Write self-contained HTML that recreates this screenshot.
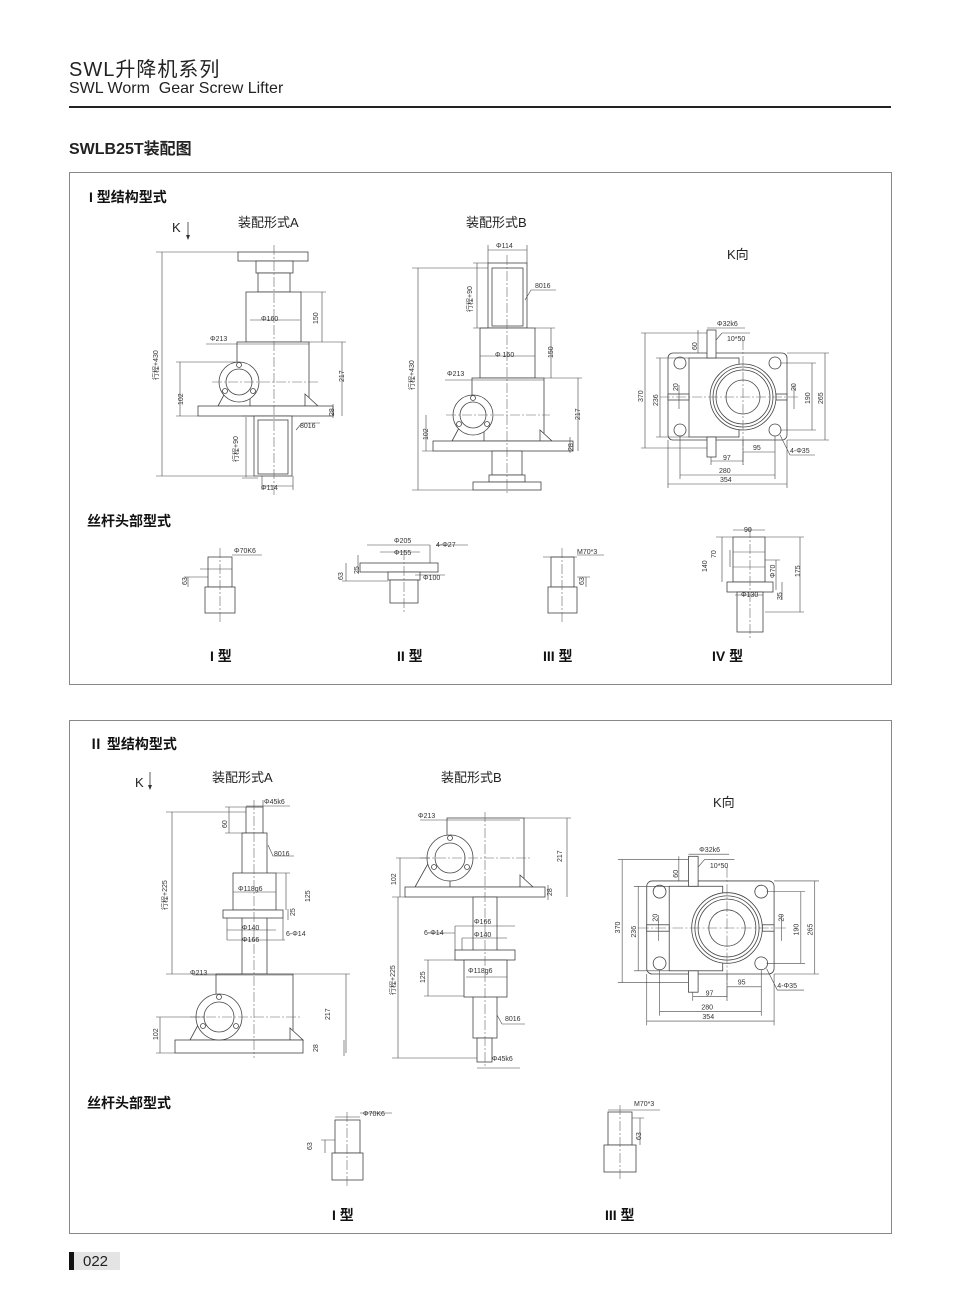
<!DOCTYPE html>
<html><head><meta charset="utf-8"><style>
html,body{margin:0;padding:0;background:#fff}
body{width:960px;height:1303px;position:relative;overflow:hidden;font-family:"Liberation Sans","Noto Sans CJK SC",sans-serif;color:#222}
.t{position:absolute;white-space:nowrap}
</style></head><body>
<div class="t" style="left:69px;top:53px;font-size:20px;letter-spacing:1px">SWL升降机系列</div>
<div class="t" style="left:69px;top:80px;font-size:16px">SWL Worm&nbsp; Gear Screw Lifter</div>
<div style="position:absolute;left:69px;top:106px;width:822px;height:2px;background:#222"></div>
<div class="t" style="left:69px;top:135px;font-size:16px;font-weight:bold">SWLB25T装配图</div>
<div style="position:absolute;left:69px;top:172px;width:821px;height:511px;border:1px solid #888"></div>
<div style="position:absolute;left:69px;top:720px;width:821px;height:512px;border:1px solid #888"></div>
<div style="position:absolute;left:69px;top:1252px;width:5px;height:18px;background:#111"></div>
<div style="position:absolute;left:74px;top:1252px;width:46px;height:18px;background:#e4e4e4"></div>
<div class="t" style="left:83px;top:1253px;font-size:15px">022</div>

<svg width="960" height="1303" style="position:absolute;left:0;top:0" xmlns="http://www.w3.org/2000/svg" font-family="Liberation Sans, Noto Sans CJK SC, sans-serif">
<g font-size="14" font-weight="bold" fill="#111">
<text x="89" y="202">I 型结构型式</text>
<text x="87" y="526">丝杆头部型式</text>
<text x="89" y="749">Ⅱ 型结构型式</text>
<text x="87" y="1108">丝杆头部型式</text>
<text x="210" y="661">I 型</text><text x="397" y="661">II 型</text><text x="543" y="661">III 型</text><text x="712" y="661">IV 型</text>
<text x="332" y="1220">I 型</text><text x="605" y="1220">III 型</text>
</g>
<g font-size="13" fill="#222">
<text x="172" y="232">K</text><text x="238" y="227">装配形式A</text><text x="466" y="227">装配形式B</text><text x="727" y="259">K向</text>
<text x="135" y="787">K</text><text x="212" y="782">装配形式A</text><text x="441" y="782">装配形式B</text><text x="713" y="807">K向</text>
</g>
<g stroke="#333" stroke-width="0.8"><line x1="188" y1="222" x2="188" y2="238"/><line x1="150" y1="772" x2="150" y2="788"/></g>
<path d="M186 235 L188 240 L190 235Z M148 785 L150 790 L152 785Z" fill="#333"/>

<g fill="#fff" stroke="#444" stroke-width="0.8">
<!-- S1 A -->
<rect x="238" y="252" width="70" height="9"/><rect x="256" y="261" width="37" height="12"/>
<rect x="258" y="273" width="32" height="19"/><rect x="246" y="292" width="55" height="50"/>
<rect x="237" y="342" width="72" height="64"/>
<path d="M218 406 L232 380 L250 380 L250 406Z M305 394 L318 406 L305 406Z"/>
<rect x="198" y="406" width="135" height="10"/>
<circle cx="239" cy="382" r="20"/><circle cx="239" cy="382" r="13"/>
<circle cx="239" cy="365" r="2.5"/><circle cx="225" cy="391" r="2.5"/><circle cx="253" cy="391" r="2.5"/>
<rect x="254" y="416" width="38" height="60"/><rect x="258" y="420" width="30" height="54"/>
<!-- S1 B -->
<rect x="488" y="263" width="39" height="65"/><rect x="492" y="268" width="31" height="58"/>
<rect x="480" y="328" width="55" height="50"/><rect x="472" y="378" width="72" height="63"/>
<path d="M452 441 L466 415 L484 415 L484 441Z M540 430 L552 441 L540 441Z"/>
<rect x="433" y="441" width="140" height="10"/>
<circle cx="473" cy="415" r="20"/><circle cx="473" cy="415" r="13"/>
<circle cx="473" cy="398" r="2.5"/><circle cx="459" cy="424" r="2.5"/><circle cx="487" cy="424" r="2.5"/>
<rect x="492" y="451" width="30" height="24"/><rect x="489" y="475" width="36" height="7"/><rect x="473" y="482" width="68" height="8"/>
<!-- S2 A -->
<rect x="246" y="807" width="17" height="26"/><rect x="242" y="833" width="25" height="141"/>
<rect x="233" y="873" width="43" height="37"/><rect x="223" y="910" width="60" height="8"/>
<rect x="216" y="974" width="77" height="66"/>
<path d="M190 1040 L205 1012 L225 1012 L225 1040Z M290 1028 L303 1040 L290 1040Z"/>
<rect x="175" y="1040" width="128" height="13"/>
<circle cx="219" cy="1017" r="23"/><circle cx="219" cy="1017" r="15"/>
<circle cx="219" cy="997" r="2.5"/><circle cx="203" cy="1026" r="2.5"/><circle cx="236" cy="1026" r="2.5"/>
<!-- S2 B -->
<rect x="447" y="818" width="77" height="69"/>
<path d="M415 887 L430 860 L450 860 L450 887Z M520 875 L533 887 L520 887Z"/>
<rect x="405" y="887" width="140" height="10"/>
<circle cx="450" cy="858" r="23"/><circle cx="450" cy="858" r="15"/>
<circle cx="450" cy="838" r="2.5"/><circle cx="434" cy="867" r="2.5"/><circle cx="467" cy="867" r="2.5"/>
<rect x="473" y="897" width="24" height="141"/>
<rect x="455" y="950" width="60" height="10"/><rect x="464" y="960" width="43" height="37"/>
<rect x="477" y="1038" width="15" height="24"/>
<!-- heads S1 -->
<rect x="208" y="557" width="24" height="30"/><rect x="205" y="587" width="30" height="26"/>
<rect x="360" y="563" width="78" height="9"/><rect x="388" y="572" width="32" height="8"/><rect x="390" y="580" width="28" height="23"/>
<rect x="551" y="557" width="23" height="30"/><rect x="548" y="587" width="29" height="26"/>
<rect x="733" y="537" width="32" height="45"/><rect x="727" y="582" width="46" height="10"/><rect x="737" y="592" width="26" height="40"/>
<!-- heads S2 -->
<rect x="335" y="1120" width="25" height="33"/><rect x="332" y="1153" width="31" height="27"/>
<rect x="608" y="1112" width="24" height="33"/><rect x="604" y="1145" width="32" height="27"/>
</g>
<g stroke="#555" stroke-width="0.6">
<line x1="733" y1="552" x2="765" y2="552"/><line x1="733" y1="567" x2="765" y2="567"/>
</g>
<!-- center lines -->
<g stroke="#666" stroke-width="0.6" stroke-dasharray="10,2,2,2" fill="none">
<line x1="274" y1="245" x2="274" y2="495"/><line x1="507" y1="255" x2="507" y2="495"/>
<line x1="212" y1="382" x2="320" y2="382"/><line x1="446" y1="415" x2="550" y2="415"/>
<line x1="254" y1="800" x2="254" y2="1058"/><line x1="485" y1="812" x2="485" y2="1068"/>
<line x1="190" y1="1017" x2="300" y2="1017"/><line x1="420" y1="858" x2="530" y2="858"/>
<line x1="220" y1="548" x2="220" y2="622"/><line x1="404" y1="550" x2="404" y2="612"/>
<line x1="562" y1="548" x2="562" y2="622"/><line x1="750" y1="528" x2="750" y2="640"/>
<line x1="347" y1="1112" x2="347" y2="1188"/><line x1="620" y1="1105" x2="620" y2="1180"/>
</g>
<!-- dim lines -->
<g stroke="#444" stroke-width="0.6" fill="none">
<path d="M162 252 V476 M156 252 H238 M156 476 H254 M180 362 V416 M176 362 H237 M176 416 H198 M246 417 V477 M242 416 H254 M242 478 H258 M322 292 V342 M300 292 H326 M342 342 V416 M309 342 H346 M333 404 V418 M262 486 H293 M262 476 V490 M293 476 V490 M250 320 H300 M206 344 H309 M296 430 L302 423 H320"/>
<path d="M418 268 V490 M412 268 H488 M412 490 H473 M477 263 V328 M473 263 H488 M473 328 H488 M488 250 H527 M488 245 V263 M527 245 V263 M551 328 V378 M535 328 H555 M578 378 V451 M544 378 H582 M570 437 V453 M426 415 V451 M422 451 H433 M480 356 H535 M445 380 H544 M525 300 L531 290 H556"/>
<path d="M172 812 V974 M166 812 H246 M166 974 H242 M229 807 V833 M225 807 H246 M225 833 H246 M263 800 V807 M246 806 H290 M268 845 L273 856 H294 M233 892 H276 M286 873 V910 M276 873 H290 M227 918 V940 M227 930 H276 M227 940 H285 M283 918 V940 M288 909 V920 M193 975 H293 M346 974 V1053 M293 974 H350 M344 1040 V1056 M160 1017 V1053 M156 1017 H205 M156 1053 H175"/>
<path d="M420 820 H520 M567 818 V897 M524 818 H571 M548 885 V900 M398 897 V1058 M392 897 H405 M392 1058 H477 M400 858 V897 M396 858 H430 M455 926 H515 M462 938 H507 M455 926 V950 M462 938 V950 M428 933 H455 M428 996 V960 M424 960 H464 M424 996 H464 M466 977 H507 M497 1015 L502 1024 H525 M477 1068 H520"/>
<path d="M200 569 H232 M188 577 V587 M184 577 H208 M232 555 H262 M346 563 V581 M342 581 H388 M358 555 V572 M367 545 H430 M380 552 H420 M415 575 H445 M430 545 V563 M436 545 H468 M543 557 H577 M586 577 V587 M577 577 H590 M577 555 H604 M733 530 H765 M722 537 V582 M716 537 H733 M730 550 V567 M776 560 V590 M765 560 H780 M800 537 V612 M765 537 H804 M765 612 H804 M735 595 H763 M782 582 V600"/>
<path d="M325 1140 V1153 M321 1140 H335 M335 1117 H360 M360 1113 H392 M640 1118 V1145 M632 1118 H644 M608 1110 H660"/>
</g>
<g font-size="7" fill="#333">
<text x="261" y="321">Φ160</text><text x="210" y="341">Φ213</text><text x="300" y="428">8016</text><text x="261" y="490">Φ114</text>
<text transform="translate(318,324) rotate(-90)">150</text><text transform="translate(344,382) rotate(-90)">217</text>
<text transform="translate(183,405) rotate(-90)">102</text><text transform="translate(334,416) rotate(-90)">28</text>
<text transform="translate(158,380) rotate(-90)">行程+430</text><text transform="translate(238,462) rotate(-90)">行程+90</text>
<text x="496" y="248">Φ114</text><text x="535" y="288">8016</text><text x="495" y="357">Φ 160</text><text x="447" y="376">Φ213</text>
<text transform="translate(472,312) rotate(-90)">行程+90</text><text transform="translate(414,390) rotate(-90)">行程+430</text>
<text transform="translate(553,358) rotate(-90)">150</text><text transform="translate(580,420) rotate(-90)">217</text>
<text transform="translate(428,440) rotate(-90)">102</text><text transform="translate(573,451) rotate(-90)">28</text>
<text x="264" y="804">Φ45k6</text><text x="274" y="856">8016</text><text x="238" y="891">Φ118g6</text><text x="242" y="930">Φ140</text><text x="242" y="942">Φ166</text><text x="286" y="936">6-Φ14</text><text x="190" y="975">Φ213</text>
<text transform="translate(227,828) rotate(-90)">60</text><text transform="translate(167,910) rotate(-90)">行程+225</text><text transform="translate(310,902) rotate(-90)">125</text><text transform="translate(295,916) rotate(-90)">25</text>
<text transform="translate(330,1020) rotate(-90)">217</text><text transform="translate(158,1040) rotate(-90)">102</text><text transform="translate(318,1052) rotate(-90)">28</text>
<text x="418" y="818">Φ213</text><text transform="translate(562,862) rotate(-90)">217</text><text transform="translate(396,885) rotate(-90)">102</text><text transform="translate(552,896) rotate(-90)">28</text>
<text x="474" y="924">Φ166</text><text x="474" y="937">Φ140</text><text x="424" y="935">6-Φ14</text><text x="468" y="973">Φ118g6</text><text x="505" y="1021">8016</text><text x="492" y="1061">Φ45k6</text>
<text transform="translate(395,995) rotate(-90)">行程+225</text><text transform="translate(425,983) rotate(-90)">125</text>
<text x="234" y="553">Φ70K6</text><text transform="translate(187,585) rotate(-90)">63</text>
<text x="394" y="543">Φ205</text><text x="436" y="547">4-Φ27</text><text x="394" y="555">Φ155</text><text x="423" y="580">Φ100</text>
<text transform="translate(343,580) rotate(-90)">63</text><text transform="translate(359,574) rotate(-90)">25</text>
<text x="577" y="554">M70*3</text><text transform="translate(584,585) rotate(-90)">63</text>
<text x="744" y="532">90</text><text transform="translate(707,572) rotate(-90)">140</text><text transform="translate(716,558) rotate(-90)">70</text><text transform="translate(775,578) rotate(-90)">Φ70</text><text transform="translate(800,577) rotate(-90)">175</text><text x="741" y="597">Φ130</text><text transform="translate(782,600) rotate(-90)">35</text>
<text x="363" y="1116">Φ70K6</text><text transform="translate(312,1150) rotate(-90)">63</text>
<text x="634" y="1106">M70*3</text><text transform="translate(641,1140) rotate(-90)">63</text>
</g>

<!-- K views -->
<g id="k1">
<g fill="#fff" stroke="#444" stroke-width="0.8">
<rect x="668" y="353" width="119" height="87" rx="5"/>
<rect x="689" y="358" width="50" height="79"/>
<rect x="668" y="394" width="21" height="6"/><rect x="776" y="394" width="11" height="6"/>
<circle cx="743" cy="397" r="33"/><circle cx="743" cy="397" r="30"/><circle cx="743" cy="397" r="27"/><circle cx="743" cy="397" r="17"/>
<circle cx="680" cy="363" r="6"/><circle cx="775" cy="363" r="6"/><circle cx="680" cy="430" r="6"/><circle cx="775" cy="430" r="6"/>
<rect x="707" y="330" width="9" height="28"/><rect x="707" y="437" width="9" height="20"/>
</g>
<g stroke="#666" stroke-width="0.6" stroke-dasharray="10,2,2,2"><line x1="660" y1="397" x2="800" y2="397"/><line x1="743" y1="340" x2="743" y2="465"/></g>
<g stroke="#444" stroke-width="0.6" fill="none">
<path d="M645 333 V448 M641 333 H707 M641 448 H707 M660 358 V437 M656 358 H689 M656 437 H689 M812 363 V430 M780 363 H816 M780 430 H816 M825 353 V440 M787 353 H829 M787 440 H829 M668 484 H787 M668 440 V488 M787 440 V488 M680 475 H775 M680 436 V479 M775 436 V479 M711 461 H743 M711 457 V465 M743 452 H775 M743 440 V465 M707 328 H745 M716 340 L722 333 H750 M698 330 V353 M780 435 L790 455 H815 M679 385 V409 M794 385 V409"/>
</g>
<g font-size="7" fill="#333">
<text x="717" y="326">Φ32k6</text><text x="727" y="341">10*50</text><text transform="translate(697,350) rotate(-90)">60</text>
<text transform="translate(643,402) rotate(-90)">370</text><text transform="translate(658,406) rotate(-90)">236</text>
<text transform="translate(678,391) rotate(-90)">20</text><text transform="translate(796,391) rotate(-90)">20</text>
<text transform="translate(810,404) rotate(-90)">190</text><text transform="translate(823,404) rotate(-90)">265</text>
<text x="753" y="450">95</text><text x="723" y="460">97</text><text x="719" y="473">280</text><text x="720" y="482">354</text><text x="790" y="453">4-Φ35</text>
</g>
</g>
<g transform="translate(727,928) scale(1.07) translate(-743,-397)">
<g fill="#fff" stroke="#444" stroke-width="0.75">
<rect x="668" y="353" width="119" height="87" rx="5"/>
<rect x="689" y="358" width="50" height="79"/>
<rect x="668" y="394" width="21" height="6"/><rect x="776" y="394" width="11" height="6"/>
<circle cx="743" cy="397" r="33"/><circle cx="743" cy="397" r="30"/><circle cx="743" cy="397" r="27"/><circle cx="743" cy="397" r="17"/>
<circle cx="680" cy="363" r="6"/><circle cx="775" cy="363" r="6"/><circle cx="680" cy="430" r="6"/><circle cx="775" cy="430" r="6"/>
<rect x="707" y="330" width="9" height="28"/><rect x="707" y="437" width="9" height="20"/>
</g>
<g stroke="#666" stroke-width="0.55" stroke-dasharray="10,2,2,2"><line x1="660" y1="397" x2="800" y2="397"/><line x1="743" y1="340" x2="743" y2="465"/></g>
<g stroke="#444" stroke-width="0.55" fill="none">
<path d="M645 333 V448 M641 333 H707 M641 448 H707 M660 358 V437 M656 358 H689 M656 437 H689 M812 363 V430 M780 363 H816 M780 430 H816 M825 353 V440 M787 353 H829 M787 440 H829 M668 484 H787 M668 440 V488 M787 440 V488 M680 475 H775 M680 436 V479 M775 436 V479 M711 461 H743 M711 457 V465 M743 452 H775 M743 440 V465 M707 328 H745 M716 340 L722 333 H750 M698 330 V353 M780 435 L790 455 H815 M679 385 V409 M794 385 V409"/>
</g>
<g font-size="6.6" fill="#333">
<text x="717" y="326">Φ32k6</text><text x="727" y="341">10*50</text><text transform="translate(697,350) rotate(-90)">60</text>
<text transform="translate(643,402) rotate(-90)">370</text><text transform="translate(658,406) rotate(-90)">236</text>
<text transform="translate(678,391) rotate(-90)">20</text><text transform="translate(796,391) rotate(-90)">20</text>
<text transform="translate(810,404) rotate(-90)">190</text><text transform="translate(823,404) rotate(-90)">265</text>
<text x="753" y="450">95</text><text x="723" y="460">97</text><text x="719" y="473">280</text><text x="720" y="482">354</text><text x="790" y="453">4-Φ35</text>
</g>
</g>
</svg>
</body></html>
